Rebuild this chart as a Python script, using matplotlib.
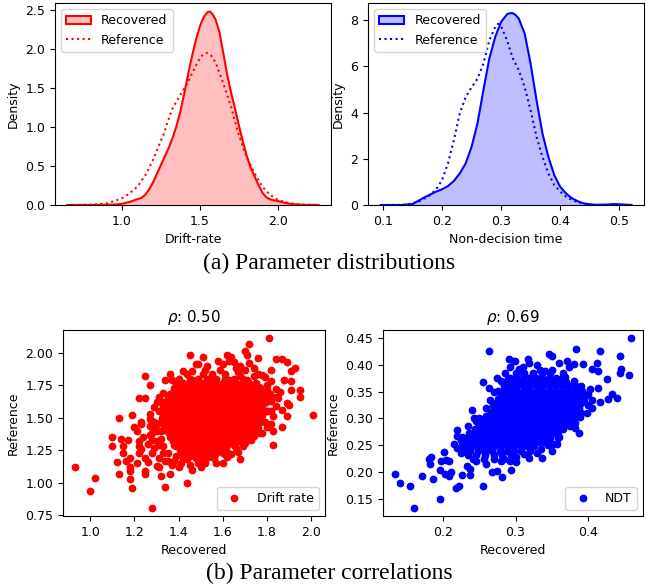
import numpy as np
import matplotlib
matplotlib.use("Agg")
import matplotlib.pyplot as plt
from matplotlib.colors import to_rgba
from matplotlib.patches import Patch
from matplotlib.lines import Line2D

plt.rcParams["font.size"] = 9

# density curves (x, density)
drift_rec_x = [0.65, 0.85, 0.95, 1.00, 1.05, 1.10, 1.125, 1.15, 1.175, 1.20, 1.225, 1.25, 1.275, 1.30,
               1.325, 1.35, 1.375, 1.40, 1.425, 1.45, 1.475, 1.50, 1.525, 1.55, 1.565, 1.58, 1.60,
               1.625, 1.65, 1.675, 1.70, 1.725, 1.75, 1.775, 1.80, 1.825, 1.85, 1.875, 1.90, 1.925,
               1.95, 1.975, 2.00, 2.05, 2.10, 2.16, 2.26]
drift_rec_y = [0, 0.001, 0.006, 0.015, 0.04, 0.075, 0.09, 0.13, 0.20, 0.29, 0.40, 0.51, 0.62, 0.73,
               0.86, 1.01, 1.20, 1.43, 1.68, 1.91, 2.12, 2.29, 2.41, 2.475, 2.48, 2.45, 2.38,
               2.22, 1.95, 1.67, 1.44, 1.24, 1.02, 0.82, 0.63, 0.48, 0.37, 0.26, 0.16, 0.10,
               0.072, 0.06, 0.05, 0.025, 0.009, 0.002, 0]
drift_ref_x = [0.65, 0.80, 0.90, 0.95, 1.00, 1.05, 1.10, 1.16, 1.20, 1.27, 1.32, 1.38, 1.42, 1.45,
               1.48, 1.50, 1.52, 1.545, 1.57, 1.60, 1.63, 1.65, 1.70, 1.74, 1.79, 1.85, 1.90, 1.95,
               2.00, 2.06, 2.12, 2.26]
drift_ref_y = [0, 0.004, 0.02, 0.05, 0.085, 0.15, 0.235, 0.41, 0.58, 0.92, 1.22, 1.43, 1.56, 1.69,
               1.81, 1.88, 1.93, 1.95, 1.92, 1.83, 1.67, 1.56, 1.26, 0.96, 0.66, 0.41, 0.235, 0.13,
               0.064, 0.03, 0.01, 0]

ndt_rec_x = [0.096, 0.13, 0.15, 0.17, 0.19, 0.20, 0.21, 0.22, 0.23, 0.24, 0.25, 0.26, 0.27, 0.28, 0.29,
             0.30, 0.31, 0.315, 0.32, 0.325, 0.33, 0.34, 0.35, 0.36, 0.37, 0.38, 0.39, 0.40, 0.41, 0.42,
             0.43, 0.44, 0.45, 0.46, 0.48, 0.49, 0.50, 0.521]
ndt_rec_y = [0, 0, 0.04, 0.33, 0.58, 0.68, 0.82, 1.04, 1.37, 1.80, 2.52, 3.53, 4.97, 6.34, 7.28,
             7.93, 8.26, 8.31, 8.31, 8.22, 8.07, 7.42, 6.12, 4.54, 3.10, 2.09, 1.30, 0.79, 0.50, 0.29,
             0.16, 0.07, 0.03, 0.01, 0.02, 0.04, 0.03, 0]
ndt_ref_x = [0.096, 0.14, 0.16, 0.18, 0.19, 0.20, 0.21, 0.22, 0.23, 0.24, 0.25, 0.26, 0.27, 0.28, 0.29,
             0.295, 0.30, 0.31, 0.32, 0.33, 0.34, 0.35, 0.36, 0.37, 0.38, 0.39, 0.40, 0.41, 0.42, 0.43,
             0.44, 0.46, 0.521]
ndt_ref_y = [0, 0.01, 0.14, 0.43, 0.68, 1.08, 1.80, 2.81, 3.96, 4.68, 5.10, 5.47, 6.12, 7.13, 7.71,
             7.85, 7.74, 7.13, 6.34, 5.84, 5.10, 4.10, 2.95, 2.09, 1.37, 0.86, 0.58, 0.36, 0.22, 0.12,
             0.04, 0, 0]

# scatter points (recovered, reference)
drift_outer = [
    (0.93, 1.12), (1.00, 0.94), (1.02, 1.04), (1.10, 1.35), (1.10, 1.28), (1.12, 1.16), (1.13, 1.07),
    (1.13, 1.50), (1.14, 1.34), (1.15, 1.28), (1.15, 1.23), (1.16, 1.17), (1.17, 1.33), (1.18, 1.12),
    (1.18, 1.09), (1.18, 1.03), (1.19, 0.96), (1.18, 1.19), (1.19, 1.52), (1.20, 1.43), (1.21, 1.40),
    (1.21, 1.15), (1.22, 1.23), (1.22, 1.32), (1.22, 1.28), (1.22, 1.65), (1.23, 1.45), (1.23, 1.47),
    (1.24, 1.35), (1.23, 1.26), (1.25, 1.19), (1.25, 1.09), (1.25, 1.07), (1.25, 1.65), (1.25, 1.82),
    (1.26, 1.16), (1.27, 1.37), (1.27, 1.49), (1.27, 1.75), (1.28, 1.23), (1.28, 0.81), (1.29, 1.42),
    (1.29, 1.58), (1.30, 1.32), (1.30, 1.13), (1.31, 1.12), (1.32, 1.05), (1.31, 1.19), (1.33, 1.28),
    (1.33, 1.69), (1.34, 0.97), (1.34, 1.17), (1.34, 1.79), (1.36, 1.07), (1.35, 1.23), (1.36, 1.68),
    (1.37, 1.14), (1.37, 1.79), (1.38, 1.35), (1.39, 1.21), (1.40, 1.12), (1.40, 1.80), (1.40, 1.68),
    (1.42, 1.19), (1.42, 1.86), (1.44, 1.18), (1.44, 1.00), (1.44, 1.84), (1.45, 1.98), (1.46, 1.10),
    (1.46, 1.79), (1.48, 1.91), (1.48, 1.19), (1.49, 1.91), (1.51, 1.97), (1.51, 1.16), (1.52, 1.15),
    (1.53, 1.90), (1.51, 1.84), (1.55, 1.84), (1.56, 1.19), (1.56, 1.23), (1.58, 1.94), (1.60, 1.15),
    (1.61, 1.84), (1.62, 1.98), (1.62, 1.20), (1.63, 1.94), (1.64, 1.97), (1.64, 1.22), (1.65, 1.93),
    (1.66, 1.88), (1.67, 1.24), (1.68, 1.18), (1.68, 1.82), (1.69, 1.28), (1.70, 2.01), (1.70, 1.87),
    (1.71, 1.98), (1.72, 2.07), (1.74, 1.88), (1.74, 1.36), (1.76, 1.96), (1.76, 1.84), (1.78, 1.38),
    (1.79, 1.81), (1.81, 2.11), (1.82, 1.87), (1.82, 1.45), (1.83, 1.40), (1.83, 1.29), (1.83, 1.51),
    (1.84, 1.95), (1.84, 1.72), (1.84, 1.59), (1.85, 1.65), (1.86, 1.70), (1.87, 1.95), (1.87, 1.56),
    (1.87, 1.43), (1.88, 1.79), (1.89, 1.93), (1.89, 1.61), (1.89, 1.51), (1.91, 1.78), (1.91, 1.86),
    (1.91, 1.71), (1.93, 1.88), (1.95, 1.71), (1.95, 1.66), (2.01, 1.52), (1.90, 1.60), (1.78, 1.62),
    (1.80, 1.55), (1.79, 1.47), (1.81, 1.68), (1.77, 1.73), (1.80, 1.75), (1.82, 1.63), (1.78, 1.52),
    (1.76, 1.42), (1.79, 1.66), (1.27, 1.53), (1.30, 1.45), (1.31, 1.55), (1.28, 1.38), (1.32, 1.40),
    (1.30, 1.62), (1.34, 1.58), (1.33, 1.50), (1.26, 1.30), (1.29, 1.27), (1.32, 1.34), (1.35, 1.62),
    (1.38, 1.17), (1.41, 1.24), (1.45, 1.14), (1.47, 1.22), (1.50, 1.12), (1.53, 1.20), (1.43, 1.27),
    (1.39, 1.28), (1.49, 1.78), (1.54, 1.80), (1.59, 1.87), (1.63, 1.79), (1.67, 1.85), (1.71, 1.79),
    (1.72, 1.92), (1.57, 1.76),
    # ring around the dense centre
    (1.36, 1.84), (1.39, 1.76), (1.31, 1.66), (1.29, 1.47), (1.28, 1.33), (1.33, 1.23), (1.35, 1.17),
    (1.41, 1.15), (1.49, 1.15), (1.57, 1.15), (1.61, 1.22), (1.66, 1.27), (1.70, 1.31), (1.73, 1.33),
    (1.77, 1.38), (1.80, 1.43), (1.82, 1.55), (1.84, 1.66), (1.82, 1.78), (1.78, 1.83), (1.74, 1.82),
    (1.68, 1.90), (1.60, 1.91), (1.52, 1.87), (1.46, 1.86), (1.38, 1.73), (1.33, 1.62), (1.30, 1.40),
    (1.27, 1.44), (1.31, 1.29),
]
# dense centre of the cloud, one row of recovered values per reference level
drift_core_rows = [
    (1.80, [1.45, 1.49, 1.53, 1.57, 1.61, 1.65, 1.69]),
    (1.77, [1.42, 1.45, 1.48, 1.51, 1.54, 1.57, 1.60, 1.63, 1.66, 1.69, 1.72, 1.75]),
    (1.74, [1.405, 1.435, 1.465, 1.495, 1.525, 1.555, 1.585, 1.615, 1.645, 1.675, 1.705, 1.735, 1.765]),
    (1.71, [1.38, 1.41, 1.44, 1.47, 1.50, 1.53, 1.56, 1.59, 1.62, 1.65, 1.68, 1.71, 1.74, 1.77, 1.80]),
    (1.68, [1.365, 1.395, 1.425, 1.455, 1.485, 1.515, 1.545, 1.575, 1.605, 1.635, 1.665, 1.695, 1.725,
            1.755, 1.785, 1.815]),
    (1.65, [1.35, 1.38, 1.41, 1.44, 1.47, 1.50, 1.53, 1.56, 1.59, 1.62, 1.65, 1.68, 1.71, 1.74, 1.77,
            1.80]),
    (1.62, [1.345, 1.375, 1.405, 1.435, 1.465, 1.495, 1.525, 1.555, 1.585, 1.615, 1.645, 1.675, 1.705,
            1.735, 1.765, 1.795]),
    (1.59, [1.33, 1.36, 1.39, 1.42, 1.45, 1.48, 1.51, 1.54, 1.57, 1.60, 1.63, 1.66, 1.69, 1.72, 1.75,
            1.78]),
    (1.56, [1.335, 1.365, 1.395, 1.425, 1.455, 1.485, 1.515, 1.545, 1.575, 1.605, 1.635, 1.665, 1.695,
            1.725, 1.755, 1.785]),
    (1.53, [1.33, 1.36, 1.39, 1.42, 1.45, 1.48, 1.51, 1.54, 1.57, 1.60, 1.63, 1.66, 1.69, 1.72, 1.75,
            1.78]),
    (1.50, [1.325, 1.355, 1.385, 1.415, 1.445, 1.475, 1.505, 1.535, 1.565, 1.595, 1.625, 1.655, 1.685,
            1.715, 1.745, 1.775]),
    (1.47, [1.32, 1.35, 1.38, 1.41, 1.44, 1.47, 1.50, 1.53, 1.56, 1.59, 1.62, 1.65, 1.68, 1.71, 1.74,
            1.77]),
    (1.44, [1.335, 1.365, 1.395, 1.425, 1.455, 1.485, 1.515, 1.545, 1.575, 1.605, 1.635, 1.665, 1.695,
            1.725, 1.755]),
    (1.41, [1.34, 1.37, 1.40, 1.43, 1.46, 1.49, 1.52, 1.55, 1.58, 1.61, 1.64, 1.67, 1.70, 1.73]),
    (1.38, [1.355, 1.385, 1.415, 1.445, 1.475, 1.505, 1.535, 1.565, 1.595, 1.625, 1.655, 1.685, 1.715,
            1.74]),
    (1.35, [1.36, 1.39, 1.42, 1.45, 1.48, 1.51, 1.54, 1.57, 1.60, 1.63, 1.66, 1.69, 1.72]),
    (1.32, [1.375, 1.405, 1.435, 1.465, 1.495, 1.525, 1.555, 1.585, 1.615, 1.645, 1.675]),
    (1.29, [1.38, 1.41, 1.44, 1.47, 1.50, 1.53, 1.56, 1.59, 1.62, 1.65]),
    (1.26, [1.405, 1.435, 1.465, 1.495, 1.525, 1.555, 1.585, 1.615]),
    (1.23, [1.42, 1.45, 1.48, 1.51, 1.54, 1.57, 1.60]),
    (1.20, [1.445, 1.475, 1.505, 1.535, 1.56]),
]

ndt_outer = [
    (0.134, 0.196), (0.141, 0.180), (0.155, 0.175), (0.160, 0.134), (0.171, 0.193), (0.181, 0.225),
    (0.184, 0.229), (0.182, 0.215), (0.187, 0.187), (0.196, 0.150), (0.196, 0.204), (0.197, 0.221),
    (0.201, 0.237), (0.203, 0.196), (0.205, 0.222), (0.208, 0.192), (0.208, 0.220), (0.211, 0.201),
    (0.215, 0.252), (0.218, 0.171), (0.222, 0.175), (0.219, 0.268), (0.220, 0.279), (0.226, 0.195),
    (0.227, 0.265), (0.230, 0.247), (0.233, 0.211), (0.237, 0.206), (0.238, 0.195), (0.240, 0.315),
    (0.243, 0.301), (0.245, 0.295), (0.255, 0.367), (0.255, 0.174), (0.259, 0.305), (0.263, 0.356),
    (0.264, 0.426), (0.268, 0.201), (0.269, 0.325), (0.274, 0.202), (0.275, 0.375), (0.276, 0.352),
    (0.276, 0.336), (0.281, 0.190), (0.290, 0.375), (0.291, 0.410), (0.293, 0.396), (0.292, 0.221),
    (0.294, 0.204), (0.296, 0.407), (0.299, 0.407), (0.300, 0.218), (0.305, 0.392), (0.305, 0.386),
    (0.311, 0.233), (0.317, 0.410), (0.318, 0.404), (0.318, 0.226), (0.333, 0.391), (0.335, 0.243),
    (0.336, 0.227), (0.341, 0.388), (0.341, 0.257), (0.344, 0.251), (0.346, 0.420), (0.348, 0.266),
    (0.350, 0.416), (0.352, 0.252), (0.357, 0.252), (0.359, 0.275), (0.359, 0.264), (0.360, 0.404),
    (0.368, 0.377), (0.371, 0.407), (0.373, 0.395), (0.375, 0.285), (0.380, 0.401), (0.382, 0.283),
    (0.382, 0.292), (0.383, 0.430), (0.387, 0.272), (0.389, 0.302), (0.393, 0.402), (0.398, 0.311),
    (0.402, 0.354), (0.405, 0.393), (0.405, 0.320), (0.412, 0.404), (0.414, 0.389), (0.414, 0.357),
    (0.416, 0.425), (0.416, 0.330), (0.426, 0.374), (0.427, 0.336), (0.432, 0.345), (0.439, 0.339),
    (0.443, 0.416), (0.443, 0.384), (0.445, 0.393), (0.456, 0.381), (0.459, 0.449), (0.290, 0.352),
    (0.295, 0.345), (0.293, 0.340),
    # ring around the dense centre
    (0.270, 0.350), (0.280, 0.370), (0.285, 0.385), (0.310, 0.395), (0.330, 0.400), (0.350, 0.390),
    (0.365, 0.385), (0.380, 0.370), (0.390, 0.360), (0.400, 0.345), (0.405, 0.335), (0.400, 0.325),
    (0.390, 0.310), (0.380, 0.300), (0.370, 0.290), (0.365, 0.280), (0.360, 0.265), (0.350, 0.240),
    (0.330, 0.235), (0.320, 0.240), (0.300, 0.228), (0.280, 0.220), (0.260, 0.215), (0.245, 0.220),
    (0.225, 0.235), (0.220, 0.245), (0.225, 0.260), (0.235, 0.285), (0.250, 0.300), (0.260, 0.320),
    (0.265, 0.335),
]
ndt_core_rows = [
    (0.384, [0.300, 0.312, 0.324, 0.336, 0.348]),
    (0.376, [0.292, 0.301, 0.310, 0.319, 0.328, 0.337, 0.346, 0.355, 0.364]),
    (0.368, [0.288, 0.297, 0.306, 0.315, 0.324, 0.333, 0.342, 0.351, 0.360, 0.369]),
    (0.360, [0.284, 0.293, 0.302, 0.311, 0.320, 0.329, 0.338, 0.347, 0.356, 0.365, 0.374, 0.383]),
    (0.352, [0.283, 0.292, 0.301, 0.310, 0.319, 0.328, 0.337, 0.346, 0.355, 0.364, 0.373, 0.382, 0.391]),
    (0.344, [0.280, 0.289, 0.298, 0.307, 0.316, 0.325, 0.334, 0.343, 0.352, 0.361, 0.370, 0.379, 0.388,
             0.397]),
    (0.336, [0.277, 0.286, 0.295, 0.304, 0.313, 0.322, 0.331, 0.340, 0.349, 0.358, 0.367, 0.376, 0.385,
             0.394]),
    (0.328, [0.273, 0.282, 0.291, 0.300, 0.309, 0.318, 0.327, 0.336, 0.345, 0.354, 0.363, 0.372, 0.381,
             0.390]),
    (0.320, [0.270, 0.279, 0.288, 0.297, 0.306, 0.315, 0.324, 0.333, 0.342, 0.351, 0.360, 0.369, 0.378,
             0.387]),
    (0.312, [0.266, 0.275, 0.284, 0.293, 0.302, 0.311, 0.320, 0.329, 0.338, 0.347, 0.356, 0.365, 0.374,
             0.383]),
    (0.304, [0.262, 0.271, 0.280, 0.289, 0.298, 0.307, 0.316, 0.325, 0.334, 0.343, 0.352, 0.361, 0.370,
             0.378]),
    (0.296, [0.256, 0.265, 0.274, 0.283, 0.292, 0.301, 0.310, 0.319, 0.328, 0.337, 0.346, 0.355, 0.364,
             0.372]),
    (0.288, [0.250, 0.259, 0.268, 0.277, 0.286, 0.295, 0.304, 0.313, 0.322, 0.331, 0.340, 0.349, 0.358,
             0.366]),
    (0.280, [0.244, 0.253, 0.262, 0.271, 0.280, 0.289, 0.298, 0.307, 0.316, 0.325, 0.334, 0.343, 0.352,
             0.360]),
    (0.272, [0.236, 0.245, 0.254, 0.263, 0.272, 0.281, 0.290, 0.299, 0.308, 0.317, 0.326, 0.335, 0.344,
             0.353]),
    (0.264, [0.230, 0.239, 0.248, 0.257, 0.266, 0.275, 0.284, 0.293, 0.302, 0.311, 0.320, 0.329, 0.338,
             0.347]),
    (0.256, [0.226, 0.235, 0.244, 0.253, 0.262, 0.271, 0.280, 0.289, 0.298, 0.307, 0.316, 0.325, 0.334,
             0.340]),
    (0.248, [0.226, 0.235, 0.244, 0.253, 0.262, 0.271, 0.280, 0.289, 0.298, 0.307, 0.316, 0.325]),
    (0.240, [0.228, 0.238, 0.248, 0.258, 0.268, 0.278, 0.288, 0.298, 0.308]),
    (0.232, [0.234, 0.246, 0.258, 0.270, 0.282, 0.294]),
    (0.224, [0.242, 0.256, 0.270, 0.284]),
]

W, H = 659, 588
fig = plt.figure(figsize=(W / 100, H / 100), dpi=100)


def axes_px(left, top, right, bottom):
    return fig.add_axes([left / W, 1 - bottom / H, (right - left) / W, (bottom - top) / H])


def kde_panel(ax, rx, ry, fx, fy, color, xlabel, xlim, ylim):
    ax.fill_between(rx, ry, color=color, alpha=0.25, lw=0)
    ax.plot(rx, ry, color=color, lw=1.5)
    ax.plot(fx, fy, color=color, ls=":", lw=1.5)
    ax.set_xlim(*xlim)
    ax.set_ylim(*ylim)
    ax.set_xlabel(xlabel)
    ax.set_ylabel("Density")
    handles = [Patch(facecolor=to_rgba(color, 0.25), edgecolor=color, lw=1.5),
               Line2D([], [], color=color, ls=":", lw=1.5)]
    ax.legend(handles, ["Recovered", "Reference"], loc="upper left")


def scatter_panel(ax, outer, core_rows, color, label, rho):
    xs = [p[0] for p in outer]
    ys = [p[1] for p in outer]
    for y, row in core_rows:
        xs += row
        ys += [y] * len(row)
    ax.scatter(xs, ys, s=21, color=color, label=label)
    ax.set_title(r"$\rho$: " + rho)
    ax.set_xlabel("Recovered")
    ax.set_ylabel("Reference")
    ax.legend(loc="lower right")


ax1 = axes_px(55, 3, 331, 205)
kde_panel(ax1, drift_rec_x, drift_rec_y, drift_ref_x, drift_ref_y, "red", "Drift-rate",
          (0.572, 2.34), (0, 2.59))
ax2 = axes_px(368, 3, 644, 205)
kde_panel(ax2, ndt_rec_x, ndt_rec_y, ndt_ref_x, ndt_ref_y, "blue", "Non-decision time",
          (0.0746, 0.542), (0, 8.75))

ax3 = axes_px(63, 330, 325, 516)
scatter_panel(ax3, drift_outer, drift_core_rows, "red", "Drift rate", "0.50")
ax3.set_ylim(0.745, 2.175)
ax4 = axes_px(383, 330, 643, 516)
scatter_panel(ax4, ndt_outer, ndt_core_rows, "blue", "NDT", "0.69")
ax4.set_yticks([0.15, 0.20, 0.25, 0.30, 0.35, 0.40, 0.45])

fig.text(0.5, 1 - 263 / H, "(a) Parameter distributions", ha="center", va="center",
         family="Liberation Serif", fontsize=17)
fig.text(0.5, 1 - 573 / H, "(b) Parameter correlations", ha="center", va="center",
         family="Liberation Serif", fontsize=17)

fig.savefig("out.png", dpi=100)
